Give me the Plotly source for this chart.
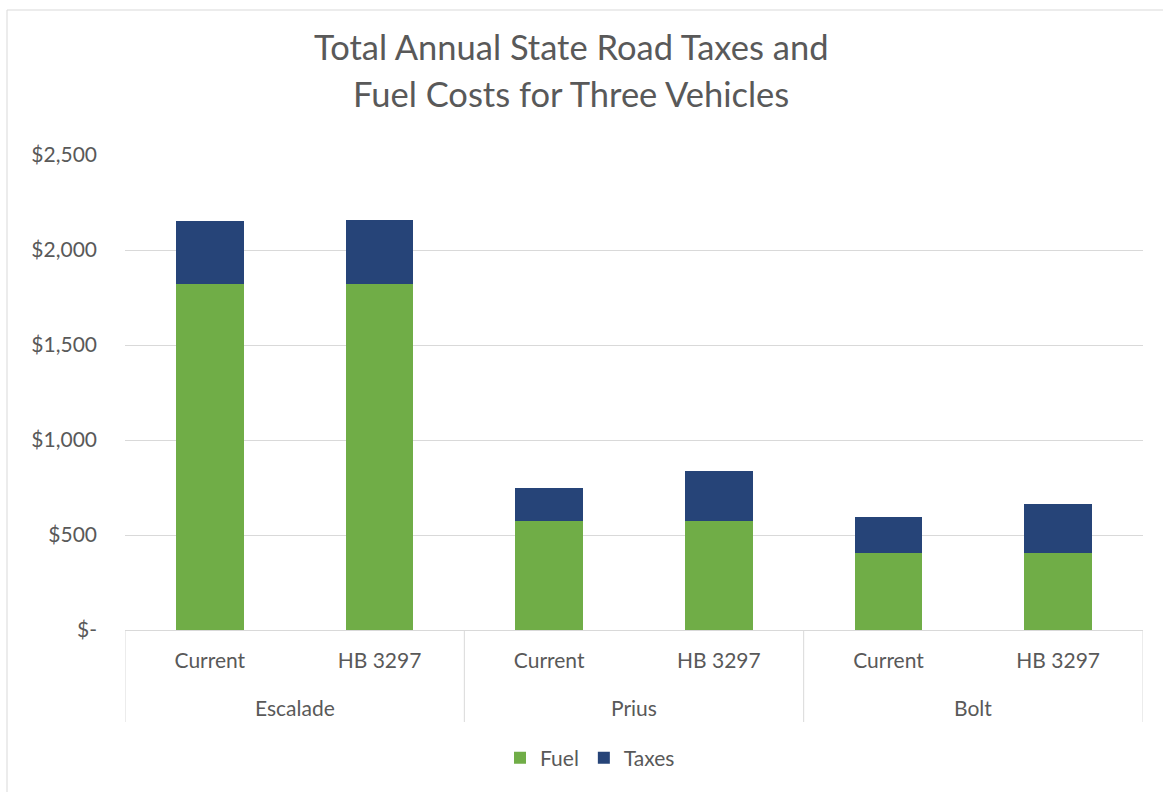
import plotly.graph_objects as go

vehicles = ["Escalade", "Escalade", "Prius", "Prius", "Bolt", "Bolt"]
scenarios = ["Current", "HB 3297", "Current", "HB 3297", "Current", "HB 3297"]
fuel = [1822, 1822, 572, 572, 404, 404]
taxes = [331, 338, 177, 263, 191, 261]
ytick_vals = [0, 500, 1000, 1500, 2000, 2500]
ytick_text = ["$-", "$500", "$1,000", "$1,500", "$2,000", "$2,500"]

FONT = "Lato"
TXT = "#595959"
GRID = "#D9D9D9"
W, H = 1163, 792
L, R, T, B = 125, 1143, 155, 630

xkeys = [f"{v} | {s}" for v, s in zip(vehicles, scenarios)]

fig = go.Figure()
fig.add_trace(go.Bar(x=xkeys, y=fuel, name="Fuel", marker_color="#70AD47",
                     marker_line_width=0))
fig.add_trace(go.Bar(x=xkeys, y=taxes, name="Taxes", marker_color="#264478",
                     marker_line_width=0))

def px_x(px):
    return (px - L) / (R - L)

def px_y(py):
    return (B - py) / (B - T)

fig.update_layout(
    width=W, height=H,
    barmode="stack", bargap=0.6,
    plot_bgcolor="white", paper_bgcolor="white",
    margin=dict(l=L, r=W - R, t=T, b=H - B),
    font=dict(family=FONT, color=TXT, size=21),
    showlegend=True,
    legend=dict(orientation="h", x=px_x(590), xanchor="center",
                y=px_y(758), yanchor="middle", font=dict(size=21, color=TXT),
                traceorder="normal", itemwidth=30),
    xaxis=dict(type="category", tickvals=xkeys, ticktext=scenarios,
               showgrid=False, showline=True, linecolor=GRID,
               linewidth=1, ticks="", ticklabelstandoff=12,
               tickfont=dict(size=21, color=TXT), range=[-0.5, len(xkeys) - 0.5]),
    yaxis=dict(range=[0, 2500], tickvals=ytick_vals, ticktext=ytick_text,
               showgrid=True, gridcolor=GRID, gridwidth=1, zeroline=False,
               showline=False, ticks="", ticklabelstandoff=27,
               tickfont=dict(size=21, color=TXT)),
)

# group labels and dividers placed on the category scale
groups = []
for i, v in enumerate(vehicles):
    if not groups or groups[-1][0] != v:
        groups.append([v, i, i])
    else:
        groups[-1][2] = i
bounds = set()
for name, i0, i1 in groups:
    fig.add_annotation(text=name, xref="x", yref="paper", x=(i0 + i1) / 2, y=px_y(707),
                       xanchor="center", yanchor="middle", showarrow=False,
                       font=dict(size=21, color=TXT, family=FONT))
    bounds.add(i0 - 0.5)
    bounds.add(i1 + 0.5)
for b in sorted(bounds):
    fig.add_shape(type="line", xref="x", yref="paper", x0=b, x1=b, y0=0, y1=px_y(722),
                  line=dict(color=GRID, width=1))

fig.add_annotation(text="Total Annual State Road Taxes and", xref="paper", yref="paper",
                   x=px_x(571), y=px_y(47), xanchor="center", yanchor="middle",
                   showarrow=False, font=dict(size=34.5, color=TXT, family=FONT))
fig.add_annotation(text="Fuel Costs for Three Vehicles", xref="paper", yref="paper",
                   x=px_x(571), y=px_y(93), xanchor="center", yanchor="middle",
                   showarrow=False, font=dict(size=34.5, color=TXT, family=FONT))

fig.add_shape(type="rect", xref="paper", yref="paper",
              x0=px_x(7), x1=px_x(1175), y0=px_y(810), y1=px_y(10),
              line=dict(color=GRID, width=1), layer="below")

fig.write_html("out.html")
